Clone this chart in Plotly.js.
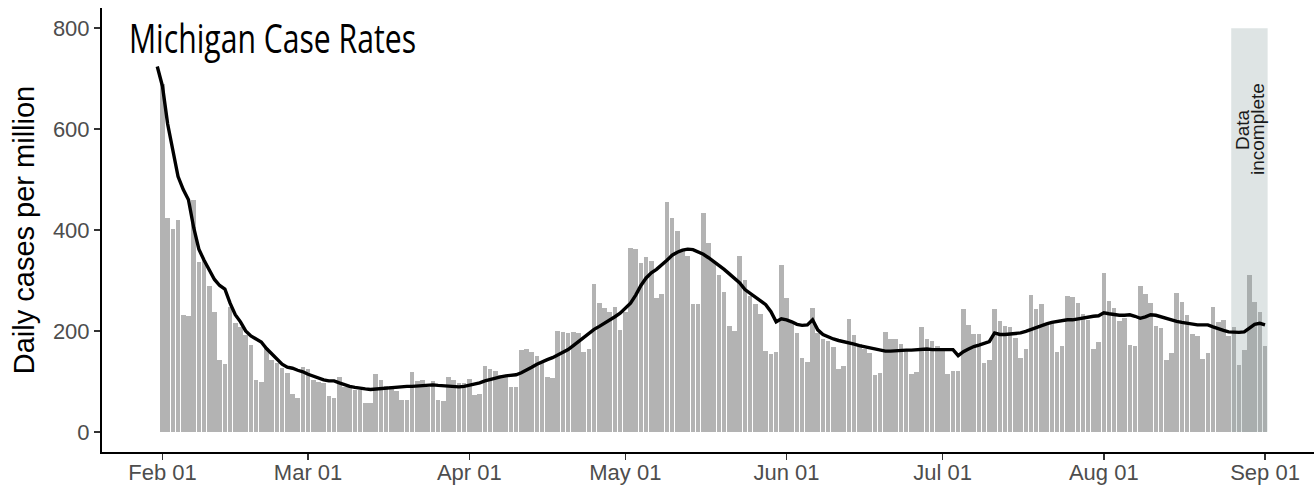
<!DOCTYPE html>
<html>
<head>
<meta charset="utf-8">
<script src="https://cdn.plot.ly/plotly-3.0.1.min.js"></script>
<style>
html, body { margin: 0; padding: 0; background: #ffffff; }
#chart { width: 1314px; height: 491px; }
</style>
</head>
<body>
<div id="chart"></div>
<script>
// ---- Data ----
const barStartDate = "2022-02-01";   // first daily bar
const lineStartDate = "2022-01-31";  // first point of the 7-day average line

const dailyCases = [
  690, 424, 402, 420, 231, 229, 460, 337, 341, 290, 238, 142, 134, 248, 216, 208, 192, 172, 103, 98,
  166, 142, 136, 126, 116, 75, 68, 129, 124, 103, 99, 96, 71, 67, 109, 88, 88, 83, 83, 58,
  58, 114, 103, 91, 90, 81, 63, 64, 118, 100, 103, 89, 100, 63, 61, 108, 103, 97, 96, 104,
  73, 74, 130, 124, 120, 112, 112, 89, 88, 163, 164, 158, 150, 140, 109, 107, 200, 197, 195, 198,
  195, 158, 164, 292, 255, 245, 238, 248, 202, 238, 364, 362, 335, 346, 339, 265, 273, 455, 423, 398,
  360, 348, 253, 253, 433, 375, 338, 310, 277, 210, 200, 349, 300, 270, 254, 233, 160, 154, 159, 330,
  265, 215, 195, 146, 138, 246, 195, 183, 180, 168, 124, 130, 223, 191, 175, 164, 156, 113, 117, 197,
  184, 184, 174, 161, 115, 119, 207, 184, 180, 170, 165, 114, 120, 120, 243, 212, 193, 194, 136, 142,
  243, 219, 210, 207, 185, 147, 165, 272, 243, 253, 215, 215, 158, 170, 270, 267, 255, 233, 222, 165,
  179, 315, 260, 245, 220, 225, 173, 170, 289, 273, 256, 210, 205, 142, 156, 275, 257, 232, 194, 190,
  144, 156, 248, 218, 222, 189, 208, 132, 162, 311, 258, 237, 170
];

const rollingAvg = [
  724, 685, 610, 555, 506, 480, 460, 405, 362, 340, 322, 302, 290, 283, 255, 232, 218, 200, 190, 183,
  178, 165, 155, 146, 134, 128, 126, 122, 119, 114, 110, 106, 103, 101, 101, 97, 93, 90, 88, 86,
  85, 84, 85, 86, 87, 88, 88, 89, 90, 90, 91, 92, 92, 93, 92, 91, 90, 89, 89, 90,
  92, 94, 97, 101, 104, 107, 109, 111, 112, 113, 117, 122, 128, 134, 139, 143, 147, 152, 158, 163,
  171, 179, 188, 196, 203, 209, 215, 222, 228, 235, 244, 255, 271, 290, 305, 315, 322, 330, 340, 350,
  356, 360, 362, 361, 357, 352, 345, 338, 330, 322, 313, 305, 295, 282, 274, 266, 259, 252, 238, 218,
  224, 222, 218, 213, 211, 212, 222, 202, 193, 188, 184, 181, 179, 177, 174, 171, 169, 166, 164, 162,
  160, 160, 161, 161, 162, 162, 163, 164, 164, 163, 163, 163, 163, 163, 151, 159, 164, 169, 172, 176,
  179, 196, 193, 193, 194, 194, 196, 199, 203, 207, 211, 214, 217, 219, 220, 222, 222, 224, 226, 227,
  229, 230, 236, 234, 232, 231, 231, 232, 229, 225, 228, 232, 231, 228, 224, 221, 219, 217, 215, 213,
  212, 212, 212, 208, 204, 201, 198, 197, 197, 198, 205, 213, 215, 212
];

const tickDates = ["2022-02-01", "2022-03-01", "2022-04-01", "2022-05-01", "2022-06-01", "2022-07-01", "2022-08-01", "2022-09-01"];
const tickLabels = ["Feb 01", "Mar 01", "Apr 01", "May 01", "Jun 01", "Jul 01", "Aug 01", "Sep 01"];
const yTicks = [0, 200, 400, 600, 800];

const incompleteStart = "2022-08-25 12:00";
const incompleteEnd = "2022-09-01 12:00";
const incompleteFirstDay = "2022-08-26";
const incompleteLabel = ["Data", "incomplete"];

// ---- Helpers ----
function dayList(start, n) {
  const out = [];
  const d0 = new Date(start + "T00:00:00Z");
  for (let i = 0; i < n; i++) {
    const d = new Date(d0.getTime() + i * 86400000);
    out.push(d.toISOString().slice(0, 10));
  }
  return out;
}
const barDates = dayList(barStartDate, dailyCases.length);
const lineDates = dayList(lineStartDate, rollingAvg.length);
const barColors = barDates.map(d => d >= incompleteFirstDay ? "#A9AEAE" : "#B3B3B3");

const bars = {
  type: "bar",
  x: barDates,
  y: dailyCases,
  width: 0.88 * 86400000,
  marker: { color: barColors, line: { width: 0 } },
  hoverinfo: "x+y",
  showlegend: false
};

const line = {
  type: "scatter",
  mode: "lines",
  x: lineDates,
  y: rollingAvg,
  line: { color: "#000000", width: 3.4 },
  hoverinfo: "x+y",
  showlegend: false
};

const tickFont = { family: "Liberation Sans, Arial, sans-serif", size: 22, color: "#4D4D4D" };

const layout = {
  width: 1314,
  height: 491,
  margin: { l: 102, r: 0, t: 8, b: 39, pad: 0 },
  paper_bgcolor: "#ffffff",
  plot_bgcolor: "#ffffff",
  bargap: 0,
  title: {
    text: "Michigan Case Rates",
    font: { family: "Open Sans, sans-serif", size: 41, color: "#000000" },
    xref: "container", yref: "container",
    x: 129 / 1314, xanchor: "left",
    y: 1 - 39 / 491, yanchor: "middle"
  },
  xaxis: {
    type: "date",
    range: ["2022-01-20 09:00", "2022-09-10 10:00"],
    tickmode: "array",
    tickvals: tickDates,
    ticktext: tickLabels,
    ticks: "outside",
    ticklen: 6,
    tickwidth: 1.6,
    tickcolor: "#333333",
    ticklabelstandoff: -6,
    showline: true,
    linecolor: "#000000",
    linewidth: 2,
    showgrid: false,
    zeroline: false,
    tickfont: tickFont
  },
  yaxis: {
    range: [-40, 840],
    tickmode: "array",
    tickvals: yTicks,
    ticks: "outside",
    ticklen: 6,
    tickwidth: 1.6,
    tickcolor: "#333333",
    showline: true,
    linecolor: "#000000",
    linewidth: 2,
    showgrid: false,
    zeroline: false,
    tickfont: tickFont,
    title: {
      text: "Daily cases per million",
      font: { family: "Liberation Sans, Arial, sans-serif", size: 29, color: "#000000" },
      standoff: 10
    }
  },
  shapes: [{
    type: "rect",
    xref: "x", yref: "y",
    x0: incompleteStart, x1: incompleteEnd,
    y0: 0, y1: 800,
    fillcolor: "#DEE4E4",
    line: { width: 0 },
    layer: "below"
  }],
  annotations: incompleteLabel.map((t, i) => ({
    xref: "x", yref: "y",
    x: "2022-08-29", y: 600,
    xshift: (i - 0.5) * 15,
    text: t,
    textangle: -90,
    showarrow: false,
    font: { family: "Liberation Sans, Arial, sans-serif", size: 19, color: "#1A1A1A" }
  }))
};

const titleWidthPx = 287; // the reference title is set in a narrower face than Open Sans

Plotly.newPlot("chart", [bars, line], layout, { displayModeBar: false, staticPlot: true }).then(gd => {
  const t = gd.querySelector(".gtitle");
  if (t) {
    t.setAttribute("textLength", titleWidthPx);
    t.setAttribute("lengthAdjust", "spacingAndGlyphs");
  }
});
</script>
</body>
</html>
